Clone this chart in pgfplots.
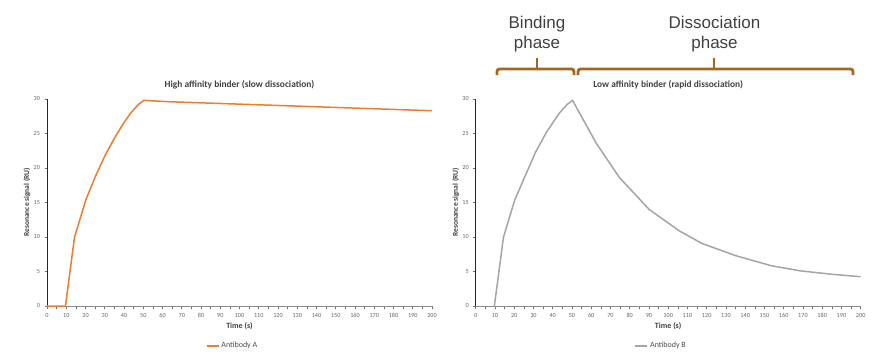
\documentclass[border=0pt]{standalone}
\usepackage{pgfplots}
\pgfplotsset{compat=1.18}
\usepackage{fontspec}
\setmainfont{Carlito}
\newfontfamily\arialf{Liberation Sans}
\definecolor{orA}{HTML}{ED7D31}
\definecolor{grB}{HTML}{A5A5A5}
\definecolor{brk}{HTML}{A5661E}
\pgfplotstableread{
t s
0 0
9.6 0
14.3 10
20.2 15.4
25 18.7
30.3 21.9
35 24.3
39.8 26.5
43.6 28
47.4 29.2
50.3 29.8
64 29.6
200 28.3
}\dataA
\pgfplotstableread{
t s
9.7 0
14.4 9.94
20.2 15.3
25.6 18.8
31.1 22.3
37 25.3
43.6 28
47.4 29.2
50.3 29.8
62.6 23.6
74.7 18.6
90.1 14.0
105.7 10.9
117.5 9.07
135 7.3
153.5 5.84
168.5 5.1
185 4.6
200 4.24
}\dataB
\pgfplotsset{
  spr/.style={
    anchor=south west, scale only axis, width=385pt, height=207pt,
    xmin=0, xmax=200, ymin=0, ymax=30,
    axis lines=left, axis line style={-},
    x axis line style={draw=black!45, line width=0.8pt},
    y axis line style={draw=black!85, line width=0.8pt},
    xtick={0,10,...,200}, minor x tick num=1, ytick={0,5,...,30},
    tick align=outside, major tick length=2.5pt, minor tick length=2.5pt,
    every tick/.style={black!55, line width=0.6pt},
    /pgf/number format/assume math mode=true,
    tick label style={font=\fontsize{6.2}{7}\selectfont, text=black!60},
    xticklabel style={yshift=-1pt},
    yticklabel style={xshift=-1pt},
    every axis title shift=0pt,
    title style={font=\bfseries\fontsize{9.4}{10}\selectfont, text=black!75, at={(axis description cs:0.5,1)}, anchor=center, yshift=14pt},
    xlabel={Time (s)}, ylabel={Resonance signal (RU)},
    xlabel style={font=\bfseries\fontsize{8}{9}\selectfont, text=black!75, at={(axis description cs:0.5,0)}, anchor=center, yshift=-20pt},
    ylabel style={font=\bfseries\fontsize{7.5}{9}\selectfont, text=black!75, at={(axis description cs:-0.052,0.5)}, anchor=center},
    legend style={at={(axis description cs:0.482,-0.193)}, anchor=center, draw=none, fill=none,
      font=\fontsize{8}{9}\selectfont, text=black!70, inner sep=0pt},
    legend image code/.code={\draw[#1] (0pt,0pt) -- (12pt,0pt);},
    legend cell align=left,
  }
}
\begin{document}
\begin{tikzpicture}[x=1pt,y=1pt]
\useasboundingbox (0,0) rectangle (877,360);
\begin{axis}[spr, at={(47pt,54pt)}, title={High affinity binder (slow dissociation)}]
\addplot[orA, line width=1.5pt] table[x=t,y=s] {\dataA};
\addlegendentry{Antibody A}
\end{axis}
\begin{axis}[spr, at={(475.7pt,54pt)}, title={Low affinity binder (rapid dissociation)}]
\addplot[grB, line width=1.5pt] table[x=t,y=s] {\dataB};
\addlegendentry{Antibody B}
\end{axis}
% phase brackets
\draw[brk, line width=2.8pt, rounded corners=2.5pt] (497,285) -- (497,291) -- (574,291) -- (574,285);
\draw[brk, line width=2.8pt] (537,291) -- (537,302);
\draw[brk, line width=2.8pt, rounded corners=2.5pt] (578,285) -- (578,291) -- (853,291) -- (853,285);
\draw[brk, line width=2.8pt] (714,291) -- (714,302);
\node[font=\arialf\fontsize{17}{20}\selectfont, text=black!75, align=center, anchor=center] at (537,326) {Binding\\phase};
\node[font=\arialf\fontsize{17}{20}\selectfont, text=black!75, align=center, anchor=center] at (714.5,326) {Dissociation\\phase};
\end{tikzpicture}
\end{document}
